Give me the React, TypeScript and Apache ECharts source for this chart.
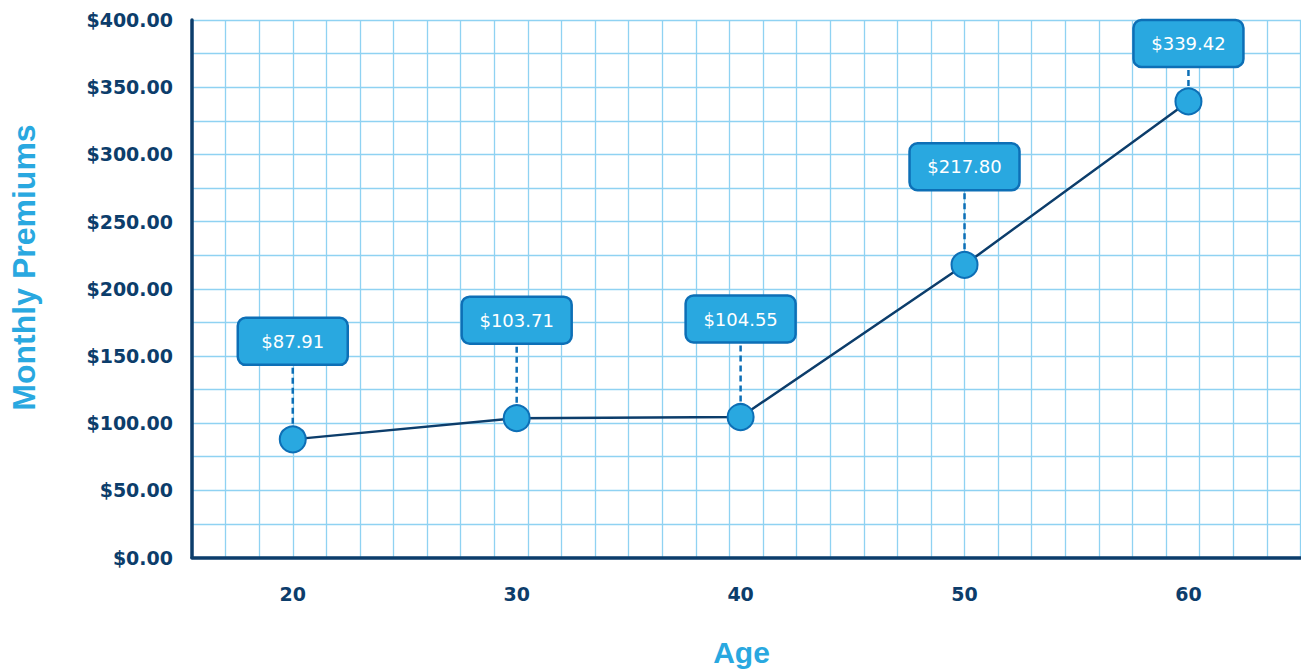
import React, { useEffect, useRef } from "react";
import * as echarts from "echarts";

// Age groups and the monthly premium quoted for each
const ages: number[] = [20, 30, 40, 50, 60];
const premiums: number[] = [87.91, 103.71, 104.55, 217.8, 339.42];

// Axis ranges and tick positions
const ageTicks: number[] = [20, 30, 40, 50, 60];
const ageMin = 15.5;
const ageMax = 66.5;
const premiumMax = 400;
const premiumLabelStep = 50;
const premiumGridStep = 25;
const gridCells = 34;

const NAVY = "#0c3d6b";
const SKY = "#29a8e0";
const SKY_EDGE = "#0d6fb6";
const GRID = "#8fd2f2";

const BOX_W = 110;
const BOX_H = 47;
const BOX_RISE = 98;

export default function App() {
  const ref = useRef<HTMLDivElement>(null);

  useEffect(() => {
    if (!ref.current) return;
    const chart = echarts.init(ref.current, undefined, { renderer: "svg" });
    const points = ages.map((a, i) => [a, premiums[i]]);

    chart.setOption({
      animation: false,
      backgroundColor: "#ffffff",
      grid: {
        left: 192,
        top: 20,
        right: -33,
        bottom: 114.5,
        outerBoundsMode: "none",
        containLabel: false,
      },
      xAxis: [
        {
          type: "value",
          min: ageMin,
          max: ageMax,
          position: "bottom",
          axisLine: { show: true, onZero: false, lineStyle: { color: NAVY, width: 3.5 } },
          axisTick: { show: false },
          splitLine: { show: false },
          axisLabel: {
            customValues: ageTicks,
            color: NAVY,
            fontFamily: "DejaVu Sans",
            fontWeight: "bold",
            fontSize: 19,
            margin: 27,
          },
        },
        {
          // square paper grid behind the plot
          type: "value",
          min: 0,
          max: gridCells,
          interval: 1,
          position: "bottom",
          axisLine: { show: false },
          axisTick: { show: false },
          axisLabel: { show: false },
          splitLine: { show: true, lineStyle: { color: GRID, width: 1.3 } },
        },
      ],
      yAxis: {
        type: "value",
        min: 0,
        max: premiumMax,
        interval: premiumGridStep,
        axisLine: { show: true, onZero: false, lineStyle: { color: NAVY, width: 3.5 } },
        axisTick: { show: false },
        splitLine: { show: true, lineStyle: { color: GRID, width: 1.3 } },
        axisLabel: {
          color: NAVY,
          fontFamily: "DejaVu Sans",
          fontWeight: "bold",
          fontSize: 19,
          margin: 19,
          formatter: (v: number) => (v % premiumLabelStep === 0 ? "$" + v.toFixed(2) : ""),
        },
      },
      graphic: [
        {
          type: "text",
          x: 24,
          y: 267.5,
          rotation: Math.PI / 2,
          style: {
            text: "Monthly Premiums",
            fill: SKY,
            font: 'bold 32px "Liberation Sans"',
            align: "center",
            verticalAlign: "middle",
          },
        },
        {
          type: "text",
          x: 741.5,
          y: 652,
          style: {
            text: "Age",
            fill: SKY,
            font: 'bold 30px "Liberation Sans"',
            align: "center",
            verticalAlign: "middle",
          },
        },
      ],
      series: [
        {
          type: "line",
          xAxisIndex: 0,
          yAxisIndex: 0,
          data: points,
          z: 3,
          symbol: "circle",
          symbolSize: 26,
          lineStyle: { color: NAVY, width: 2.5 },
          itemStyle: { color: SKY, borderColor: SKY_EDGE, borderWidth: 2 },
        },
        {
          // callout boxes with a dashed leader down to each point
          type: "custom",
          xAxisIndex: 0,
          yAxisIndex: 0,
          data: points,
          z: 4,
          clip: false,
          silent: true,
          renderItem: (params: any, api: any) => {
            const value = api.value(1) as number;
            const [px, py] = api.coord([api.value(0), value]);
            const top = params.coordSys.y;
            const cy = Math.max(py - BOX_RISE, top + BOX_H / 2);
            return {
              type: "group",
              children: [
                {
                  type: "line",
                  shape: { x1: px, y1: cy + BOX_H / 2 + 3, x2: px, y2: py - 14 },
                  style: { stroke: SKY_EDGE, lineWidth: 2.5, lineDash: [6, 4] },
                },
                {
                  type: "rect",
                  shape: { x: px - BOX_W / 2, y: cy - BOX_H / 2, width: BOX_W, height: BOX_H, r: 8 },
                  style: { fill: SKY, stroke: SKY_EDGE, lineWidth: 2.5 },
                },
                {
                  type: "text",
                  x: px,
                  y: cy,
                  style: {
                    text: "$" + value.toFixed(2),
                    fill: "#ffffff",
                    font: '18px "DejaVu Sans"',
                    align: "center",
                    verticalAlign: "middle",
                  },
                },
              ],
            };
          },
        },
      ],
    });

    return () => chart.dispose();
  }, []);

  return (
    <div
      ref={ref}
      style={{ position: "fixed", left: 0, top: 0, width: 1301, height: 672 }}
    />
  );
}
